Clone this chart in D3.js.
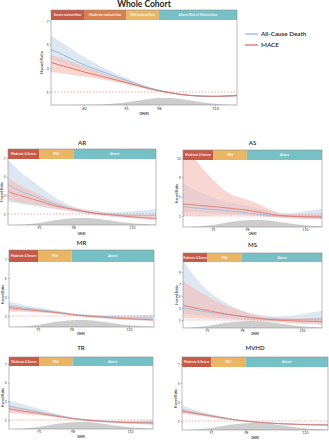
<!DOCTYPE html>
<html>
<head>
<meta charset="utf-8">
<script src="https://cdn.jsdelivr.net/npm/d3@7"></script>
<style>
  body { margin: 0; background: #fff; }
  svg { display: block; font-family: Lato, "Open Sans", sans-serif; }
</style>
</head>
<body>
<svg id="chart" width="329" height="440"></svg>
<script>
// ---------- data ----------
// every series point is [lower CI, hazard ratio, upper CI]

const mainGnri = [74.9, 78, 82, 86, 91, 95, 98, 101, 104, 107, 110, 113, 114.7];
const mainDeath = [[3.7, 4.6, 5.75], [3.35, 4.05, 5.0], [2.85, 3.3, 3.95], [2.4, 2.7, 3.1], [1.85, 2.0, 2.2],
  [1.37, 1.45, 1.55], [1.1, 1.15, 1.2], [0.86, 0.9, 0.94], [0.68, 0.72, 0.76], [0.6, 0.64, 0.68],
  [0.58, 0.62, 0.66], [0.61, 0.66, 0.72], [0.63, 0.7, 0.78]];
const mainMace = [[2.7, 3.5, 4.1], [2.55, 3.15, 3.75], [2.3, 2.7, 3.15], [2.05, 2.3, 2.6], [1.65, 1.8, 1.95],
  [1.3, 1.38, 1.46], [1.05, 1.1, 1.15], [0.86, 0.9, 0.94], [0.7, 0.74, 0.78], [0.62, 0.66, 0.7],
  [0.6, 0.64, 0.68], [0.62, 0.67, 0.72], [0.64, 0.7, 0.76]];
const mainDensity = [0, 0, 0.02, 0.1, 0.4, 0.8, 1.0, 0.95, 0.7, 0.4, 0.18, 0.05, 0.02];
const mainBands = ["Severe malnutrition", "Moderate malnutrition", "Mild malnutrition", "Absent Risk of Malnutrition"];
const mainCuts = [82, 91, 98];
const mainXTicks = [82, 91, 98, 110];
const mainYTicks = [1, 3, 5, 7];

const subGnri = [84.7, 87, 91, 94.5, 98, 101, 104, 107, 110, 115];
const subDensity = [0, 0.05, 0.3, 0.7, 0.95, 1.0, 0.8, 0.5, 0.25, 0.05];
const subBands = ["Moderate & Severe", "Mild", "Absent"];
const subCuts = [91, 98];
const subXTicks = [91, 98, 110];

const arDeath = [[2.3, 4.1, 6.8], [2.1, 3.5, 5.6], [1.8, 2.7, 4.0], [1.5, 2.0, 2.7], [1.25, 1.5, 1.8],
  [1.0, 1.2, 1.45], [0.8, 1.0, 1.25], [0.65, 0.9, 1.2], [0.55, 0.85, 1.3], [0.45, 0.85, 1.55]];
const arMace = [[2.5, 3.4, 4.9], [2.25, 3.0, 4.1], [1.9, 2.4, 3.1], [1.55, 1.85, 2.25], [1.3, 1.5, 1.7],
  [1.05, 1.2, 1.35], [0.85, 1.0, 1.15], [0.7, 0.85, 1.0], [0.55, 0.7, 0.9], [0.35, 0.5, 0.7]];

const asDeath = [[1.8, 2.9, 7.8], [1.7, 2.7, 6.6], [1.5, 2.35, 4.8], [1.3, 2.05, 3.8], [1.1, 1.65, 3.1],
  [0.95, 1.35, 2.4], [0.8, 1.1, 1.8], [0.6, 0.95, 1.6], [0.45, 0.85, 2.0], [0.3, 0.8, 2.65]];
const asMace = [[1.0, 3.5, 20], [1.05, 3.3, 13.5], [1.1, 2.95, 8.5], [1.15, 2.6, 5.6], [1.2, 2.2, 4.4],
  [1.0, 1.75, 3.2], [0.7, 1.2, 1.8], [0.5, 0.95, 1.4], [0.4, 0.85, 1.5], [0.35, 0.75, 1.6]];

const mrDeath = [[1.6, 2.05, 2.55], [1.55, 1.9, 2.3], [1.45, 1.65, 1.9], [1.3, 1.45, 1.6], [1.1, 1.2, 1.3],
  [0.95, 1.05, 1.15], [0.82, 0.95, 1.08], [0.7, 0.88, 1.05], [0.6, 0.82, 1.05], [0.45, 0.8, 1.15]];
const mrMace = [[1.45, 1.9, 2.2], [1.45, 1.75, 2.05], [1.38, 1.55, 1.75], [1.25, 1.38, 1.5], [1.07, 1.15, 1.23],
  [0.93, 1.0, 1.08], [0.8, 0.88, 0.96], [0.68, 0.78, 0.88], [0.58, 0.7, 0.82], [0.45, 0.6, 0.75]];

const msDeath = [[2.3, 3.3, 14], [2.0, 2.9, 10], [1.6, 2.35, 6.0], [1.3, 1.95, 4.0], [1.1, 1.6, 2.6],
  [0.95, 1.35, 1.9], [0.8, 1.15, 1.6], [0.7, 1.1, 1.65], [0.6, 1.1, 2.0], [0.5, 1.2, 2.7]];
const msMace = [[1.3, 3.8, 8.5], [1.25, 3.3, 7.0], [1.2, 2.6, 5.0], [1.15, 2.05, 3.5], [1.05, 1.6, 2.5],
  [0.9, 1.3, 1.8], [0.7, 1.05, 1.4], [0.5, 0.9, 1.25], [0.35, 0.8, 1.3], [0.2, 0.7, 1.5]];

const trDeath = [[1.9, 2.5, 3.1], [1.8, 2.25, 2.8], [1.6, 1.85, 2.2], [1.35, 1.5, 1.7], [1.1, 1.2, 1.3],
  [0.9, 1.0, 1.1], [0.78, 0.88, 0.98], [0.68, 0.8, 0.92], [0.6, 0.76, 0.92], [0.5, 0.75, 1.0]];
const trMace = [[1.75, 2.2, 2.55], [1.65, 2.0, 2.35], [1.5, 1.7, 1.95], [1.3, 1.42, 1.55], [1.07, 1.15, 1.23],
  [0.9, 0.98, 1.06], [0.78, 0.86, 0.95], [0.68, 0.78, 0.88], [0.6, 0.72, 0.85], [0.5, 0.68, 0.88]];

const mvhdDeath = [[1.8, 2.15, 2.7], [1.65, 1.9, 2.3], [1.4, 1.55, 1.75], [1.15, 1.25, 1.35], [0.93, 1.0, 1.07],
  [0.78, 0.85, 0.92], [0.68, 0.75, 0.82], [0.6, 0.68, 0.76], [0.53, 0.63, 0.73], [0.45, 0.6, 0.75]];
const mvhdMace = [[1.85, 2.1, 2.4], [1.7, 1.88, 2.1], [1.4, 1.52, 1.65], [1.15, 1.22, 1.3], [0.93, 0.98, 1.03],
  [0.79, 0.84, 0.89], [0.69, 0.74, 0.79], [0.62, 0.67, 0.72], [0.56, 0.62, 0.68], [0.5, 0.58, 0.66]];

// ---------- colours ----------
const mainBandColors = ["#c65a47", "#d97f4f", "#eab665", "#76c0c6"];
const subBandColors = ["#c65a47", "#eab665", "#76c0c6"];
const blue = "#93bbdc", blueFill = "#c4d7ea";
const red = "#e2705f", redFill = "#f3bdb6";

// ---------- layout (pixel positions) ----------
const panels = [
  { title: "Whole Cohort", main: true, gnri: mainGnri, death: mainDeath, mace: mainMace, density: mainDensity,
    bands: mainBands, cuts: mainCuts, colors: mainBandColors, xTicks: mainXTicks, yTicks: mainYTicks,
    x0: 51, x1: 237, xRef: [82, 110], xPx: [84, 215], titleY: 6.5, headTop: 10, headBottom: 20, bottom: 105,
    yRef: [1, 7], yPx: [92, 21], xLabel: true },
  { title: "AR", gnri: subGnri, death: arDeath, mace: arMace, yTicks: [1, 3, 5, 7],
    x0: 8, x1: 156, xPx: [39, 132], titleY: 145, headTop: 149, headBottom: 159, bottom: 225, yRef: [1, 7], yPx: [214, 158] },
  { title: "AS", gnri: subGnri, death: asDeath, mace: asMace, yTicks: [1, 5, 9, 13],
    x0: 183, x1: 322, xPx: [213, 305], titleY: 145, headTop: 150, headBottom: 160, bottom: 227, yRef: [1, 13], yPx: [216, 158] },
  { title: "MR", gnri: subGnri, death: mrDeath, mace: mrMace, yTicks: [1, 3, 5, 7], xLabelAbove: 234.5,
    x0: 9, x1: 154, xPx: [38, 129], titleY: 245, headTop: 250, headBottom: 262, bottom: 327, yRef: [1, 7], yPx: [316, 259] },
  { title: "MS", gnri: subGnri, death: msDeath, mace: msMace, yTicks: [1, 3, 5, 7, 9], xLabelAbove: 235,
    x0: 183, x1: 322, xPx: [207, 302], titleY: 247, headTop: 253, headBottom: 262, bottom: 328, yRef: [1, 9], yPx: [320, 272] },
  { title: "TR", gnri: subGnri, death: trDeath, mace: trMace, yTicks: [1, 3, 5, 7], xLabelAbove: 334.5, xLabel: true,
    x0: 9, x1: 153, xPx: [39, 130], titleY: 350, headTop: 357, headBottom: 366, bottom: 429, yRef: [1, 7], yPx: [420, 364] },
  { title: "MVHD", gnri: subGnri, death: mvhdDeath, mace: mvhdMace, yTicks: [1, 3, 5, 7], xLabelAbove: 335, xLabel: true,
    x0: 182, x1: 328, xPx: [211, 305], titleY: 350, headTop: 357, headBottom: 367, bottom: 430, yRef: [1, 7], yPx: [421, 364] }
];

const svg = d3.select("#chart");

panels.forEach((p, i) => {
  const main = !!p.main;
  const density = p.density || subDensity;
  const bands = p.bands || subBands;
  const cuts = p.cuts || subCuts;
  const colors = p.colors || subBandColors;
  const xTicks = p.xTicks || subXTicks;
  const fs = main ? 4 : 3.4;

  const x = d3.scaleLinear().domain(p.xRef || [91, 110]).range(p.xPx);
  const y = d3.scaleLinear().domain(p.yRef).range(p.yPx);
  const yDens = d3.scaleLinear().domain([0, 1]).range([p.bottom, p.bottom - 7]);

  const g = svg.append("g");

  // clip for curves
  const clipId = "clip" + i;
  svg.append("clipPath").attr("id", clipId)
    .append("rect")
    .attr("x", p.x0).attr("y", p.headBottom)
    .attr("width", p.x1 - p.x0).attr("height", p.bottom - p.headBottom);

  const plot = g.append("g").attr("clip-path", `url(#${clipId})`);

  // density
  plot.append("path")
    .datum(p.gnri.map((d, k) => [d, density[k]]))
    .attr("fill", "#b8b8b8").attr("opacity", 0.7)
    .attr("d", d3.area().curve(d3.curveCatmullRom)
      .x(d => x(d[0])).y0(p.bottom).y1(d => yDens(d[1])));

  // CI bands then lines
  const series = [
    { data: p.death, line: blue, fill: blueFill },
    { data: p.mace, line: red, fill: redFill }
  ];
  series.forEach(s => {
    plot.append("path")
      .datum(s.data.map((d, k) => [p.gnri[k], d]))
      .attr("fill", s.fill).attr("opacity", 0.6)
      .attr("d", d3.area().curve(d3.curveCatmullRom)
        .x(d => x(d[0])).y0(d => y(d[1][0])).y1(d => y(d[1][2])));
  });
  series.forEach(s => {
    plot.append("path")
      .datum(s.data.map((d, k) => [p.gnri[k], d]))
      .attr("fill", "none").attr("stroke", s.line).attr("stroke-width", main ? 1 : 0.8)
      .attr("d", d3.line().curve(d3.curveCatmullRom)
        .x(d => x(d[0])).y(d => y(d[1][1])));
  });

  // reference line HR = 1
  g.append("line")
    .attr("x1", p.x0).attr("x2", p.x1).attr("y1", y(1)).attr("y2", y(1))
    .attr("stroke", "#e8766a").attr("stroke-width", 0.6)
    .attr("stroke-dasharray", "1.6,1.6");

  // header bands
  const edges = [p.x0, ...cuts.map(c => x(c)), p.x1];
  bands.forEach((b, k) => {
    g.append("rect")
      .attr("x", edges[k]).attr("y", p.headTop)
      .attr("width", edges[k + 1] - edges[k]).attr("height", p.headBottom - p.headTop)
      .attr("fill", colors[k]);
    g.append("text")
      .attr("x", (edges[k] + edges[k + 1]) / 2)
      .attr("y", (p.headTop + p.headBottom) / 2 + 1.1)
      .attr("text-anchor", "middle")
      .attr("fill", "#fff").attr("font-size", main ? 3.2 : 3).attr("font-weight", 600)
      .text(b);
  });

  // frame
  g.append("rect")
    .attr("x", p.x0).attr("y", p.headTop)
    .attr("width", p.x1 - p.x0).attr("height", p.bottom - p.headTop)
    .attr("fill", "none").attr("stroke", "#8c8c8c").attr("stroke-width", 0.6);

  // axes
  const yAxis = g.append("g")
    .attr("transform", `translate(${p.x0},0)`)
    .call(d3.axisLeft(y).tickValues(p.yTicks).tickFormat(d3.format("d")).tickSize(1.2).tickPadding(1));
  const xAxis = g.append("g")
    .attr("transform", `translate(0,${p.bottom})`)
    .call(d3.axisBottom(x).tickValues(xTicks).tickFormat(d3.format("d")).tickSize(1.2).tickPadding(0.8));
  [yAxis, xAxis].forEach(a => {
    a.select(".domain").remove();
    a.selectAll("line").attr("stroke", "#777").attr("stroke-width", 0.5);
    a.selectAll("text").attr("font-size", fs).attr("fill", "#333")
      .attr("font-family", "Lato, sans-serif");
  });

  // y title
  g.append("text")
    .attr("transform", `translate(${p.x0 - (main ? 8 : 5.5)},${(p.headBottom + p.bottom) / 2}) rotate(-90)`)
    .attr("text-anchor", "middle")
    .attr("font-size", fs).attr("font-weight", 600).attr("fill", "#333")
    .text("Hazard Ratio");

  // x title
  if (p.xLabel) {
    g.append("text")
      .attr("x", (p.x0 + p.x1) / 2).attr("y", p.bottom + (main ? 9.5 : 9))
      .attr("text-anchor", "middle")
      .attr("font-size", fs).attr("font-weight", 600).attr("fill", "#333")
      .text("GNRI");
  }
  if (p.xLabelAbove) {
    g.append("text")
      .attr("x", (p.x0 + p.x1) / 2).attr("y", p.xLabelAbove)
      .attr("text-anchor", "middle")
      .attr("font-size", fs).attr("font-weight", 600).attr("fill", "#333")
      .text("GNRI");
  }

  // title
  g.append("text")
    .attr("x", (p.x0 + p.x1) / 2).attr("y", p.titleY)
    .attr("text-anchor", "middle")
    .attr("font-size", main ? 8.5 : 6).attr("font-weight", main ? 700 : 600).attr("fill", "#222")
    .text(p.title);
});

// legend for the whole cohort panel
const legendItems = [{ label: "All-Cause Death", color: blue }, { label: "MACE", color: red }];
legendItems.forEach((d, k) => {
  const ly = 34 + k * 11;
  svg.append("line")
    .attr("x1", 245).attr("x2", 258).attr("y1", ly).attr("y2", ly)
    .attr("stroke", d.color).attr("stroke-width", 1.3);
  svg.append("text")
    .attr("x", 261).attr("y", ly + 2.2)
    .attr("font-size", 6.3).attr("font-weight", 600).attr("fill", "#222")
    .text(d.label);
});
</script>
</body>
</html>
